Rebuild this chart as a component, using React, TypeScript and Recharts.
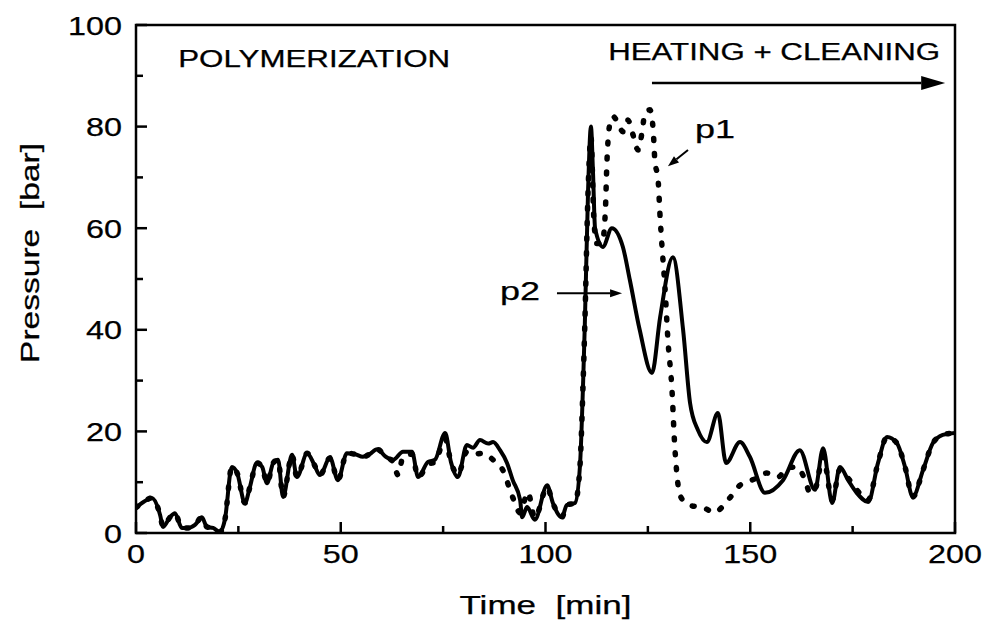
import { LineChart, Line, XAxis, YAxis, ReferenceArea, ReferenceDot, ReferenceLine, Label } from 'recharts';

// pressure traces: [time in min, pressure in bar]
const p2Points: [number, number][] = [
    [0, 5], [2, 6.2], [3.9, 6.9], [5.9, 3.5], [6.6, 1.2], [8.3, 3.1], [9.5, 3.9], [11.2, 1], [12.7, 1],
    [14.4, 1.6], [16.1, 3.1], [17.3, 1.2], [18.8, 1], [20.5, 0.2], [21.7, 2.6], [23.4, 13], [24.7, 11.8],
    [26.6, 5.9], [27.8, 9], [29.5, 13.8], [30.8, 13], [32, 9.8], [33.5, 13.8], [34.7, 14.4], [35.9, 7.1],
    [38.1, 15.4], [39.3, 11], [41.8, 15.7], [43.5, 13.5], [44.9, 11.4], [47.4, 14.8], [49.3, 10.4],
    [51.5, 15.7], [53.5, 15.5], [55.4, 15], [57, 15.5], [58.9, 16.5], [61, 15], [62.8, 14.4], [65.2, 16],
    [67.4, 16], [68.9, 11], [71.3, 14], [73, 14.4], [75.5, 19.7], [76.9, 14], [78.6, 11], [80.8, 17.3],
    [82.3, 16.8], [84, 18.3], [86, 17.6], [87.2, 17.9], [88.9, 16.3], [90.6, 13.8], [92, 10.4], [93.8, 6.5],
    [94.3, 3.1], [95.5, 5.1], [97.4, 2.6], [100.4, 9.4], [101.8, 5.9], [104, 3.1], [105.2, 5.5], [107.2, 5.9],
    [108.4, 13], [109.2, 30], [109.6, 41], [110.4, 67.5], [111.1, 80], [111.6, 71], [112.1, 60], [114, 56.3],
    [116.2, 60], [118.9, 56.3], [120.6, 49.8], [123, 40], [126, 31.5], [128, 42.5], [131.1, 54.3], [133.6, 40],
    [135.3, 25.6], [137.2, 20.3], [139.4, 17.9], [142.1, 23.6], [144.1, 13.8], [147.5, 17.9], [149.9, 15],
    [153.6, 7.9], [158, 10.4], [162.1, 16.3], [165.8, 8.5], [167.8, 16.7], [170, 5.9], [171.9, 13],
    [173.9, 10.4], [176, 7.9], [178.8, 6.1], [181.2, 13.8], [183.4, 18.9], [185.8, 17.7], [187.8, 13],
    [189.7, 7.1], [192.2, 12.4], [194.6, 17.7], [197, 19.3], [200, 19.7],
];

const p1Points: [number, number][] = [
    [0, 5], [2, 6.2], [3.9, 6.9], [5.9, 3.5], [6.6, 1.2], [8.3, 3.1], [9.5, 3.9], [11.2, 1], [12.7, 1],
    [14.4, 1.6], [16.1, 3.1], [17.3, 1.2], [18.8, 1], [20.5, 0.2], [21.7, 2.6], [23.4, 13], [24.7, 11.8],
    [26.6, 5.9], [27.8, 9], [29.5, 13.8], [30.8, 13], [32, 9.8], [33.5, 13.8], [34.7, 14.4], [35.9, 7.1],
    [38.1, 15.4], [39.3, 11], [41.8, 15.7], [43.5, 13.5], [44.9, 11.4], [47.4, 14.8], [49.3, 10.4],
    [51.5, 15.7], [53.5, 15.5], [55.4, 15], [57, 15.5], [58.9, 16.5], [61, 15], [62.8, 14], [64, 11.4],
    [65.2, 15], [67.4, 15.5], [68.9, 11], [71.3, 13.5], [73, 14], [75.5, 18.5], [76.9, 14], [78.6, 11.5],
    [80.8, 16], [82.3, 15.5], [84.7, 15.7], [87.2, 14.4], [89.5, 12.5], [92, 7], [93.8, 4], [95.7, 8],
    [97.4, 3], [100.4, 9], [101.8, 5.9], [104, 3.1], [105.2, 5.5], [107.2, 5.9], [108.4, 13], [109.2, 30],
    [109.6, 41], [110.4, 67.5], [111.1, 78], [111.8, 62], [112.5, 57], [113.8, 57], [114.6, 63], [115, 73],
    [115.6, 80], [116.5, 82], [117.7, 80.7], [118.9, 79], [120.1, 81.3], [121.4, 78.3], [122.6, 75.4],
    [123.6, 79], [124.3, 82.7], [125.5, 83.3], [126.3, 79.3], [126.7, 73.4], [127.5, 69.5], [128, 62],
    [128.4, 57], [129.2, 48], [129.9, 38], [130.9, 28], [131.5, 18], [132.1, 11.5], [132.8, 7.5], [135, 5.5],
    [138.5, 5], [141.4, 4], [143, 5], [145, 6.9], [147.5, 9.4], [149, 10], [151.6, 10.8], [154, 11.8],
    [156.8, 11], [159, 12.8], [161.4, 13], [163.4, 10.4], [164.6, 7.9], [165.8, 8.5], [167.8, 15], [170, 6.5],
    [171.9, 12.5], [173.9, 10.8], [176, 8.5], [178.8, 6.5], [181.2, 13.8], [183.4, 18.9], [185.8, 17.7],
    [187.8, 13], [189.7, 7.1], [192.2, 12.4], [194.6, 17.7], [197, 19.3], [200, 19.7],
];

const xTicks = [0, 25, 50, 75, 100, 125, 150, 175, 200];
const xLabels = [0, 50, 100, 150, 200];
const yTicks = [0, 10, 20, 30, 40, 50, 60, 70, 80, 90, 100];
const yLabels = [0, 20, 40, 60, 80, 100];

const p2Data = p2Points.map(([t, p]) => ({ t, p }));
const p1Data = p1Points.map(([t, p]) => ({ t, p }));

const FONT = '"Liberation Sans", Arial, sans-serif';
const DIGIT_W = 18;
// a thin outline makes the glyphs a touch heavier
const INK = { fill: '#000', stroke: '#000', strokeWidth: 0.25 };

// ticks point into the plot; majors get a label
function XTick({ x, y, payload }: any) {
    const major = xLabels.includes(payload.value);
    const s = String(payload.value);
    return (
        <g>
            <line x1={x} y1={y} x2={x} y2={y - (major ? 11 : 7)} stroke="#000" strokeWidth={2.5} />
            {major && (
                <text x={x} y={y + 30} textAnchor="middle" fontSize={26} fontFamily={FONT} {...INK}
                    textLength={s.length * DIGIT_W} lengthAdjust="spacingAndGlyphs">{s}</text>
            )}
        </g>
    );
}

function YTick({ x, y, payload }: any) {
    const major = yLabels.includes(payload.value);
    const s = String(payload.value);
    return (
        <g>
            <line x1={x} y1={y} x2={x + (major ? 11 : 7)} y2={y} stroke="#000" strokeWidth={2.5} />
            {major && (
                <text x={x - 14} y={y + 9.5} textAnchor="end" fontSize={26} fontFamily={FONT} {...INK}
                    textLength={s.length * DIGIT_W} lengthAdjust="spacingAndGlyphs">{s}</text>
            )}
        </g>
    );
}

const note = (text: string, len: number, size = 23) => (props: any) => (
    <text x={props.cx} y={props.cy} fontSize={size} fontFamily={FONT} {...INK}
        textLength={len} lengthAdjust="spacingAndGlyphs">{text}</text>
);

const arrow = (head: number, half: number, width: number) => (props: any) => {
    const { x1, y1, x2, y2 } = props;
    const a = Math.atan2(y2 - y1, x2 - x1);
    const bx = x2 - head * Math.cos(a);
    const by = y2 - head * Math.sin(a);
    const px = -Math.sin(a) * half;
    const py = Math.cos(a) * half;
    return (
        <g>
            <line x1={x1} y1={y1} x2={bx} y2={by} stroke="#000" strokeWidth={width} />
            <polygon points={`${x2},${y2} ${bx + px},${by + py} ${bx - px},${by - py}`} fill="#000" />
        </g>
    );
};

export default function App() {
    return (
        <div style={{ position: 'absolute', left: 0, top: 0, width: 986, height: 624, background: '#fff' }}>
            <LineChart width={986} height={624} margin={{ top: 25, right: 31, bottom: 0, left: 0 }}>
                <XAxis dataKey="t" type="number" domain={[0, 200]} ticks={xTicks} interval={0} height={91}
                    allowDataOverflow axisLine={false} tickLine={false} tickSize={0} tickMargin={0} tick={<XTick />}>
                    <Label content={({ viewBox }: any) => (
                        <text x={viewBox.x + viewBox.width / 2} y={viewBox.y + 81} textAnchor="middle"
                            fontSize={25} fontFamily={FONT} {...INK} textLength={172}
                            lengthAdjust="spacingAndGlyphs">{'Time\u00A0 [min]'}</text>
                    )} />
                </XAxis>
                <YAxis dataKey="p" type="number" domain={[0, 100]} ticks={yTicks} interval={0} width={136}
                    allowDataOverflow axisLine={false} tickLine={false} tickSize={0} tickMargin={0} tick={<YTick />}>
                    <Label content={({ viewBox }: any) => {
                        const cx = viewBox.x + 30;
                        const cy = viewBox.y + viewBox.height / 2 - 26;
                        return (
                            <text x={cx} y={cy} transform={`rotate(-90, ${cx}, ${cy})`} textAnchor="middle"
                                dominantBaseline="central" fontSize={25} fontFamily={FONT} {...INK}
                                textLength={220} lengthAdjust="spacingAndGlyphs">{'Pressure\u00A0 [bar]'}</text>
                        );
                    }} />
                </YAxis>

                <ReferenceArea x1={0} x2={200} y1={0} y2={100} fill="none" stroke="#000" strokeWidth={2.5}
                    ifOverflow="visible" />

                <Line data={p2Data} dataKey="p" type="monotone" stroke="#000" strokeWidth={4}
                    dot={false} activeDot={false} isAnimationActive={false} />
                <Line data={p1Data} dataKey="p" type="monotone" stroke="#000" strokeWidth={5.5}
                    strokeDasharray="2 13" strokeLinecap="round" dot={false} activeDot={false}
                    isAnimationActive={false} />

                <ReferenceDot x={10.3} y={91.7} r={0} ifOverflow="visible" shape={note('POLYMERIZATION', 272)} />
                <ReferenceDot x={115.3} y={93.1} r={0} ifOverflow="visible" shape={note('HEATING + CLEANING', 332)} />
                <ReferenceLine segment={[{ x: 126, y: 88.6 }, { x: 197.6, y: 88.6 }]} ifOverflow="visible"
                    shape={arrow(24, 7, 2.5)} />
                <ReferenceDot x={136.5} y={77.8} r={0} ifOverflow="visible" shape={note('p1', 40, 25)} />
                <ReferenceLine segment={[{ x: 134.8, y: 75.4 }, { x: 129.9, y: 72.2 }]} ifOverflow="visible"
                    shape={arrow(11, 4, 2)} />
                <ReferenceDot x={88.9} y={45.9} r={0} ifOverflow="visible" shape={note('p2', 40, 25)} />
                <ReferenceLine segment={[{ x: 102.8, y: 47.2 }, { x: 118.7, y: 47.2 }]} ifOverflow="visible"
                    shape={arrow(12, 4, 2)} />
            </LineChart>
        </div>
    );
}
